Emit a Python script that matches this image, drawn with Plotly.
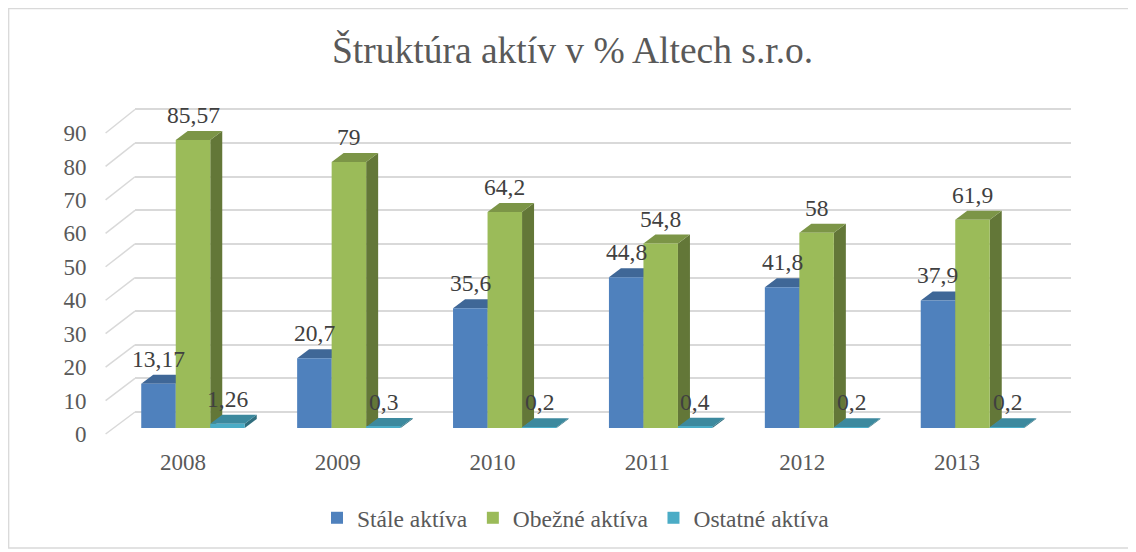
import plotly.graph_objects as go

# ---------------- data ----------------
years = ["2008", "2009", "2010", "2011", "2012", "2013"]
stale = [13.17, 20.7, 35.6, 44.8, 41.8, 37.9]
obezne = [85.57, 79, 64.2, 54.8, 58, 61.9]
ostatne = [1.26, 0.3, 0.2, 0.4, 0.2, 0.2]
series_names = ["Stále aktíva", "Obežné aktíva", "Ostatné aktíva"]
y_ticks = list(range(0, 91, 10))

# ---------------- style ----------------
W, H = 1136, 552
OFF = 8  # page body margin that offsets the figure in the browser
FONT = "Liberation Serif, Times New Roman, serif"
front_cols = ["#4F81BD", "#9BBB59", "#4BACC6"]


def shade(hexcol, f):
    h = hexcol.lstrip("#")
    r, g, b = (int(h[i:i + 2], 16) for i in (0, 2, 4))
    return "#%02x%02x%02x" % (int(r * f), int(g * f), int(b * f))


top_cols = [shade(c, 0.80) for c in front_cols]
side_cols = [shade(c, 0.64) for c in front_cols]


def fx(px):
    return (px - OFF) / W


def fy(py):
    return 1 - (py - OFF) / H


def ydom(y0px, ppu, lo, hi):
    return [fy(y0px - lo * ppu), fy(y0px - hi * ppu)]


# planes (pixel geometry of the screen)
BACK_Y0, BACK_PPU = 412.0, (412.0 - 109.5) / 90
BAR_Y0, BAR_PPU = 428.0, 3.366
FRONT_Y0, FRONT_PPU = 434.0, (434.0 - 133.0) / 90
BACK_X = (135.0, 1071.0)
BAR_X = (115.05, 1050.45)
FRONT_X = (105.6, 1034.4)
BARGAP = 0.336
DEPTH_PX = (12.0, 9.0)

n = len(years)
cat_px = (BAR_X[1] - BAR_X[0]) / n
ddx = DEPTH_PX[0] / cat_px
ddy = DEPTH_PX[1] / BAR_PPU
bw = (1 - BARGAP) / 3

series = [stale, obezne, ostatne]

fig = go.Figure()
# placeholders so that the back-wall and front-label subplots exist
fig.add_trace(go.Scatter(x=[None], y=[None], xaxis="x", yaxis="y", showlegend=False,
                         hoverinfo="skip", mode="markers"))
fig.add_trace(go.Scatter(x=[None], y=[None], xaxis="x3", yaxis="y3", showlegend=False,
                         hoverinfo="skip", mode="markers"))
for j, (name, vals) in enumerate(zip(series_names, series)):
    fig.add_trace(go.Bar(
        x=list(range(n)), y=vals, name=name,
        marker=dict(color=front_cols[j], line=dict(width=0)),
        xaxis="x2", yaxis="y2", hoverinfo="skip",
    ))

shapes = []
annotations = []
for i in range(n):
    for j, vals in enumerate(series):
        v = vals[i]
        x0 = i + (j - 1) * bw - bw / 2
        x1 = x0 + bw
        # side face
        shapes.append(dict(
            type="path", xref="x2", yref="y2", layer="between",
            path=f"M{x1},0 L{x1 + ddx},{ddy} L{x1 + ddx},{v + ddy} L{x1},{v} Z",
            fillcolor=side_cols[j], line=dict(width=0)))
        # top face
        shapes.append(dict(
            type="path", xref="x2", yref="y2", layer="between",
            path=f"M{x0},{v} L{x1},{v} L{x1 + ddx},{v + ddy} L{x0 + ddx},{v + ddy} Z",
            fillcolor=top_cols[j], line=dict(width=0)))
        annotations.append(dict(
            x=(x0 + x1) / 2, y=v, xref="x2", yref="y2",
            text=f"{v:g}".replace(".", ","), showarrow=False,
            yshift=25, yanchor="middle",
            font=dict(family=FONT, size=23.5, color="#404040")))

# slanted tick lines from front plane to back wall
for t in y_ticks:
    shapes.append(dict(
        type="line", xref="paper", yref="paper", layer="below",
        x0=fx(FRONT_X[0]), y0=fy(FRONT_Y0 - t * FRONT_PPU),
        x1=fx(BACK_X[0]), y1=fy(BACK_Y0 - t * BACK_PPU),
        line=dict(color="#d9d9d9", width=1.5)))

# outer frame
shapes.append(dict(type="rect", xref="paper", yref="paper", layer="below",
                   x0=fx(OFF + 0.7), x1=fx(1129), y0=fy(548), y1=fy(OFF + 0.7),
                   line=dict(color="#d9d9d9", width=1.3)))

annotations.append(dict(
    text="Štruktúra aktív v % Altech s.r.o.", xref="paper", yref="paper",
    x=fx(572), y=fy(50), xanchor="center", yanchor="middle", showarrow=False,
    font=dict(family=FONT, size=37.5, color="#595959")))

blank = dict(showticklabels=False, showline=False, zeroline=False, ticks="",
             fixedrange=True, automargin=False)

fig.update_layout(
    template="none",
    width=W, height=H,
    margin=dict(l=0, r=0, t=0, b=0, pad=0, autoexpand=False),
    paper_bgcolor="white", plot_bgcolor="rgba(0,0,0,0)",
    barmode="group", bargap=BARGAP, bargroupgap=0,
    shapes=shapes, annotations=annotations,
    showlegend=True,
    legend=dict(orientation="h", x=fx(576), y=fy(518), xanchor="center", yanchor="middle",
                font=dict(family=FONT, size=23.5, color="#595959"),
                bgcolor="rgba(0,0,0,0)", itemwidth=30),
    # back wall (gridlines)
    xaxis=dict(domain=[fx(BACK_X[0]), fx(BACK_X[1])], range=[0, 1], showgrid=False,
               anchor="y", **blank),
    yaxis=dict(domain=ydom(BACK_Y0, BACK_PPU, -0.5, 90.5), range=[-0.5, 90.5],
               tickvals=y_ticks, showgrid=True, gridcolor="#d9d9d9", gridwidth=1.5,
               anchor="x", **blank),
    # bars
    xaxis2=dict(domain=[fx(BAR_X[0]), fx(BAR_X[1])], range=[-0.5, n - 0.5], anchor="y2",
                showgrid=False, **blank),
    yaxis2=dict(domain=ydom(BAR_Y0, BAR_PPU, 0, 90), range=[0, 90], anchor="x2",
                showgrid=False, **blank),
    # front plane labels
    xaxis3=dict(domain=[fx(FRONT_X[0]), fx(FRONT_X[1])], range=[-0.5, n - 0.5], anchor="y3",
                tickvals=list(range(n)), ticktext=years, showgrid=False, zeroline=False,
                showline=False, ticks="", ticklabelstandoff=12, fixedrange=True,
                automargin=False,
                tickfont=dict(family=FONT, size=23, color="#595959")),
    yaxis3=dict(domain=ydom(FRONT_Y0, FRONT_PPU, 0, 90), range=[0, 90], anchor="x3",
                tickvals=y_ticks, showgrid=False, zeroline=False, showline=False,
                ticks="", ticklabelstandoff=18, fixedrange=True, automargin=False,
                tickfont=dict(family=FONT, size=23, color="#595959")),
)

fig.write_html("out.html")
